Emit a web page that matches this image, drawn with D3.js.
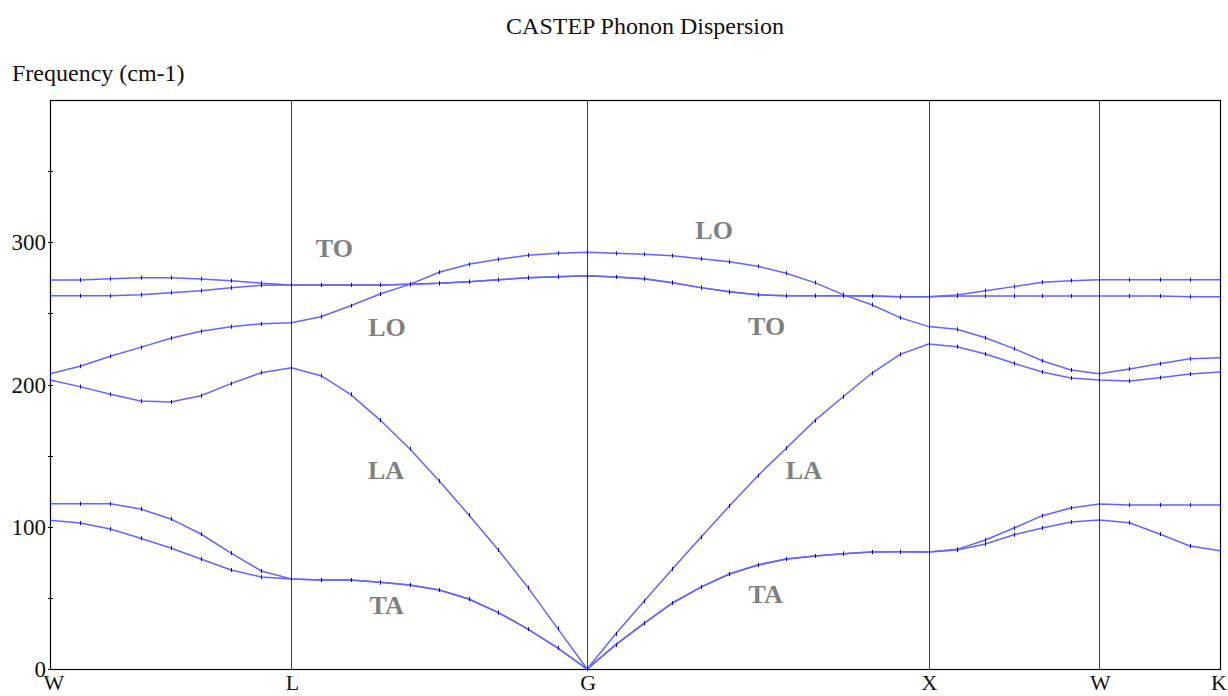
<!DOCTYPE html>
<html>
<head>
<meta charset="utf-8">
<script src="https://cdn.jsdelivr.net/npm/d3@7"></script>
<style>
  body { margin: 0; background: #fff; }
  svg { display: block; }
</style>
</head>
<body>
<svg id="chart" width="1228" height="696"></svg>
<script>
// high symmetry points along the path (cumulative k distance, 2pi/a units)
let kLabels = ["W", "L", "G", "X", "W", "K"];
let kPos = [0, 0.7071, 1.5731, 2.5731, 3.0731, 3.4267];
let kSteps = [8, 10, 12, 6, 4]; // intervals in each segment

let yTicks = [0, 100, 200, 300];
let yMinor = [50, 150, 250, 350];

// branches, read point by point (W-L, L-G, G-X, X-W, W-K)
let toUpper = [273.5, 273.5, 274.4, 275.1, 275.1, 274.2, 273.0, 271.2, 270.0,
  270.0, 270.0, 270.0, 270.4, 271.1, 272.3, 273.7, 275.1, 275.8, 276.5,
  275.6, 274.4, 271.6, 268.1, 265.2, 263.1, 262.4, 262.4, 262.4, 262.2, 261.7, 261.7,
  262.9, 265.9, 268.8, 271.9, 273.0, 273.7,
  273.7, 273.7, 273.7, 273.7];
let toLower = [262.4, 262.4, 262.4, 263.1, 264.5, 265.9, 268.0, 269.7, 270.0,
  270.0, 270.0, 270.0, 270.4, 271.1, 272.3, 273.7, 275.1, 275.8, 276.5,
  275.6, 274.4, 271.6, 268.1, 265.2, 263.1, 262.4, 262.4, 262.4, 262.2, 261.7, 261.7,
  262.2, 262.2, 262.2, 262.2, 262.2, 262.2,
  262.2, 262.2, 261.7, 261.7];
let lo = [207.6, 212.8, 219.8, 226.1, 232.5, 237.4, 240.6, 242.7, 243.4,
  247.6, 255.4, 263.6, 270.4, 278.9, 284.5, 288.0, 290.9, 292.3, 293.0,
  292.2, 291.5, 290.5, 288.4, 286.3, 283.1, 278.2, 271.6, 263.2, 256.1, 247.0, 240.7,
  238.8, 232.9, 225.2, 216.7, 210.2, 207.6,
  210.9, 214.6, 218.1, 218.8];
let la = [203.2, 198.5, 193.1, 188.4, 187.7, 192.1, 200.6, 208.3, 211.8,
  206.2, 193.1, 175.0, 154.9, 132.2, 108.3, 83.7, 57.2, 28.6, 0,
  24.6, 47.6, 70.3, 92.6, 114.6, 135.9, 155.2, 174.6, 191.4, 207.9, 221.2, 228.5,
  226.6, 221.4, 214.9, 208.8, 204.6, 203.2,
  202.5, 204.8, 207.4, 208.8];
let taUpper = [116.2, 116.2, 116.2, 112.5, 105.5, 94.9, 81.5, 68.9, 63.3,
  62.6, 62.6, 60.9, 59.1, 55.5, 49.2, 39.6, 28.1, 14.8, 0,
  16.9, 32.1, 46.4, 57.6, 66.8, 73.1, 77.3, 79.4, 81.1, 82.2, 82.4, 82.3,
  84.1, 90.7, 99.1, 107.8, 113.2, 116.0,
  115.3, 115.3, 115.3, 115.3];
let taLower = [104.5, 102.6, 98.4, 91.9, 85.1, 77.3, 69.6, 64.7, 63.3,
  62.6, 62.6, 60.9, 59.1, 55.5, 49.2, 39.6, 28.1, 14.8, 0,
  16.9, 32.1, 46.4, 57.6, 66.8, 73.1, 77.3, 79.4, 81.1, 82.2, 82.4, 82.3,
  83.7, 87.9, 94.4, 99.1, 103.3, 104.7,
  102.8, 94.9, 86.5, 83.2];

let branches = [toUpper, toLower, lo, la, taUpper, taLower];

// mode labels: text, k, frequency
let modeNames = ["TO", "LO", "LA", "TA", "LO", "TO", "LA", "TA"];
let modeK = [0.833, 0.987, 0.984, 0.986, 1.945, 2.099, 2.208, 2.096];
let modeF = [289.6, 234.3, 133.3, 38.7, 302.1, 234.8, 133.3, 46.7];

// k value of every sample point
let kAll = [];
kSteps.forEach(function(n, s) {
  let a = kPos[s], b = kPos[s + 1];
  for (let i = (s == 0 ? 0 : 1); i <= n; i++) kAll.push(a + (b - a) * i / n);
});

let serif = "Liberation Serif";
let svg = d3.select("#chart");
let margin = {top: 100, right: 8, bottom: 27, left: 50},
  width = 1228, height = 696;

let xScale = d3.scaleLinear().domain([0, kPos[kPos.length - 1]])
  .range([margin.left, width - margin.right]);
let yScale = d3.scaleLinear().domain([0, 400])
  .range([height - margin.bottom, margin.top]);

// title + y label
svg.append("text")
  .attr("x", 645).attr("y", 34)
  .attr("text-anchor", "middle")
  .style("font-family", serif)
  .attr("font-size", 24)
  .attr("fill", "#111")
  .text("CASTEP Phonon Dispersion");
svg.append("text")
  .attr("x", 12).attr("y", 81)
  .style("font-family", serif)
  .attr("font-size", 24)
  .attr("fill", "#111")
  .text("Frequency (cm-1)");

// vertical lines at high symmetry points
svg.append("g").selectAll("line")
  .data(kPos.slice(1, -1))
  .enter().append("line")
  .attr("x1", function(d) { return Math.round(xScale(d)) + 0.5; })
  .attr("x2", function(d) { return Math.round(xScale(d)) + 0.5; })
  .attr("y1", yScale(400)).attr("y2", yScale(0))
  .attr("stroke", "#444").attr("stroke-width", 1);

// frame
svg.append("rect")
  .attr("x", xScale(0) + 0.5).attr("y", yScale(400) + 0.5)
  .attr("width", xScale(kPos[kPos.length - 1]) - xScale(0))
  .attr("height", yScale(0) - yScale(400))
  .attr("fill", "none").attr("stroke", "#000").attr("stroke-width", 1.2);

// y ticks (small, crossing the axis)
svg.append("g").selectAll("line")
  .data(yTicks.concat(yMinor))
  .enter().append("line")
  .attr("x1", xScale(0) - 2).attr("x2", xScale(0) + 3)
  .attr("y1", function(d) { return Math.round(yScale(d)) + 0.5; })
  .attr("y2", function(d) { return Math.round(yScale(d)) + 0.5; })
  .attr("stroke", "#000");

svg.append("g").selectAll("text")
  .data(yTicks)
  .enter().append("text")
  .attr("x", xScale(0) - 4)
  .attr("y", function(d) { return yScale(d) + 8; })
  .attr("text-anchor", "end")
  .style("font-family", serif)
  .attr("font-size", 23)
  .attr("fill", "#111")
  .text(function(d) { return d; });

// x tick labels
svg.append("g").selectAll("text")
  .data(kLabels)
  .enter().append("text")
  .attr("x", function(d, i) { return xScale(kPos[i]) + (i == 0 ? 4 : (i == kLabels.length - 1 ? -1 : 1)); })
  .attr("y", 690)
  .attr("text-anchor", "middle")
  .style("font-family", serif)
  .attr("font-size", 22)
  .attr("fill", "#111")
  .text(function(d) { return d; });

// dispersion branches
let line = d3.line()
  .x(function(d, i) { return xScale(kAll[i]); })
  .y(function(d) { return yScale(d); });

svg.append("g").selectAll("path")
  .data(branches)
  .enter().append("path")
  .attr("d", line)
  .attr("fill", "none")
  .attr("stroke", "#6464ff")
  .attr("stroke-width", 1.5);

// little markers on sample points
branches.forEach(function(b) {
  svg.append("g").selectAll("line")
    .data(b)
    .enter().append("line")
    .attr("x1", function(d, i) { return Math.round(xScale(kAll[i])) + 0.5; })
    .attr("x2", function(d, i) { return Math.round(xScale(kAll[i])) + 0.5; })
    .attr("y1", function(d) { return yScale(d) - 2; })
    .attr("y2", function(d) { return yScale(d) + 2; })
    .attr("stroke", "#0000e0").attr("stroke-width", 1);
});

// mode names
svg.append("g").selectAll("text")
  .data(modeNames)
  .enter().append("text")
  .attr("x", function(d, i) { return xScale(modeK[i]); })
  .attr("y", function(d, i) { return yScale(modeF[i]); })
  .attr("text-anchor", "middle")
  .style("font-family", serif)
  .attr("font-size", 26)
  .attr("font-weight", "bold")
  .attr("fill", "#808080")
  .text(function(d) { return d; });
</script>
</body>
</html>
